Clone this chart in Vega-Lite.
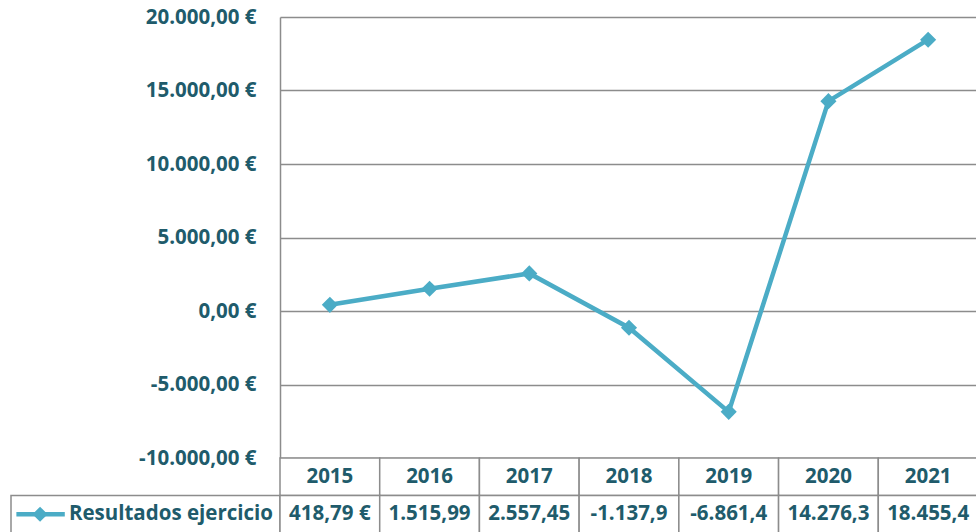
{
  "$schema": "https://vega.github.io/schema/vega-lite/v6.json",
  "padding": {"left": 10, "top": 7, "right": 0, "bottom": 0},
  "background": "white",
  "bounds": "flush",
  "columns": 2,
  "spacing": 0,
  "config": {
    "view": {"stroke": null},
    "font": "Open Sans",
    "locale": {"number": {"decimal": ",", "thousands": ".", "grouping": [3], "currency": ["", " €"], "minus": "-"}}
  },
  "datasets": {
    "series": [
      {"year": "2015", "value": 418.79},
      {"year": "2016", "value": 1515.99},
      {"year": "2017", "value": 2557.45},
      {"year": "2018", "value": -1137.9},
      {"year": "2019", "value": -6861.4},
      {"year": "2020", "value": 14276.3},
      {"year": "2021", "value": 18455.4}
    ],
    "table": [
      {"year": "2015", "row": "h", "text": "2015"},
      {"year": "2016", "row": "h", "text": "2016"},
      {"year": "2017", "row": "h", "text": "2017"},
      {"year": "2018", "row": "h", "text": "2018"},
      {"year": "2019", "row": "h", "text": "2019"},
      {"year": "2020", "row": "h", "text": "2020"},
      {"year": "2021", "row": "h", "text": "2021"},
      {"year": "2015", "row": "v", "text": "418,79 €"},
      {"year": "2016", "row": "v", "text": "1.515,99"},
      {"year": "2017", "row": "v", "text": "2.557,45"},
      {"year": "2018", "row": "v", "text": "-1.137,9"},
      {"year": "2019", "row": "v", "text": "-6.861,4"},
      {"year": "2020", "row": "v", "text": "14.276,3"},
      {"year": "2021", "row": "v", "text": "18.455,4"}
    ],
    "legend": [{"row": "v", "label": "Resultados ejercicio"}]
  },
  "concat": [
    {
      "width": 269, "height": 441,
      "data": {"values": [{}]},
      "mark": {"type": "text", "text": ""}
    },
    {
      "width": 698, "height": 441,
      "data": {"name": "series"},
      "encoding": {
        "x": {"field": "year", "type": "ordinal", "scale": {"type": "point", "padding": 0.5}, "axis": null},
        "y": {
          "field": "value", "type": "quantitative",
          "scale": {"domain": [-10000, 20000], "nice": false, "zero": false},
          "axis": {
            "title": null,
            "values": [-10000, -5000, 0, 5000, 10000, 15000, 20000],
            "format": "$,.2f",
            "ticks": false,
            "labelPadding": 24,
            "labelFont": "Open Sans", "labelFontWeight": "bold", "labelFontSize": 20.5, "labelColor": "#205B6B",
            "domainColor": "#8c8c8c", "domainWidth": 1.5,
            "gridColor": "#8c8c8c", "gridWidth": 1.5, "gridOpacity": 1
          }
        }
      },
      "layer": [
        {"mark": {"type": "line", "color": "#4BACC6", "strokeWidth": 4.5}},
        {"mark": {"type": "point", "shape": "diamond", "filled": true, "size": 260, "color": "#4BACC6", "opacity": 1}}
      ]
    },
    {
      "width": 269, "height": 75,
      "data": {"name": "legend"},
      "encoding": {
        "y": {"field": "row", "type": "nominal", "scale": {"type": "band", "domain": ["h", "v"], "paddingInner": 0, "paddingOuter": 0}, "axis": null}
      },
      "layer": [
        {"mark": {"type": "rect", "fill": "white", "stroke": "#8c8c8c", "strokeWidth": 1.5},
         "encoding": {"x": {"datum": 0, "type": "quantitative", "scale": {"domain": [0, 1]}, "axis": null}, "x2": {"datum": 1}}},
        {"mark": {"type": "rule", "color": "#4BACC6", "strokeWidth": 4.5},
         "encoding": {"x": {"datum": 0.02, "type": "quantitative"}, "x2": {"datum": 0.2}, "y": {"field": "row", "type": "nominal", "bandPosition": 0.5}}},
        {"mark": {"type": "point", "shape": "diamond", "filled": true, "size": 230, "color": "#4BACC6", "opacity": 1},
         "encoding": {"x": {"datum": 0.108, "type": "quantitative"}}},
        {"mark": {"type": "text", "align": "right", "font": "Open Sans", "fontWeight": "bold", "fontSize": 20.5, "color": "#205B6B"},
         "encoding": {"x": {"datum": 0.974, "type": "quantitative"}, "text": {"field": "label"}}}
      ]
    },
    {
      "width": 698, "height": 75,
      "data": {"name": "table"},
      "encoding": {
        "x": {"field": "year", "type": "ordinal", "scale": {"type": "band", "paddingInner": 0, "paddingOuter": 0}, "axis": null},
        "y": {"field": "row", "type": "nominal", "scale": {"type": "band", "domain": ["h", "v"], "paddingInner": 0, "paddingOuter": 0}, "axis": null}
      },
      "layer": [
        {"mark": {"type": "rect", "fill": "white", "stroke": "#8c8c8c", "strokeWidth": 1.5}},
        {"mark": {"type": "text", "font": "Open Sans", "fontWeight": "bold", "fontSize": 20.5, "color": "#205B6B"},
         "encoding": {"text": {"field": "text"}}}
      ]
    }
  ]
}
